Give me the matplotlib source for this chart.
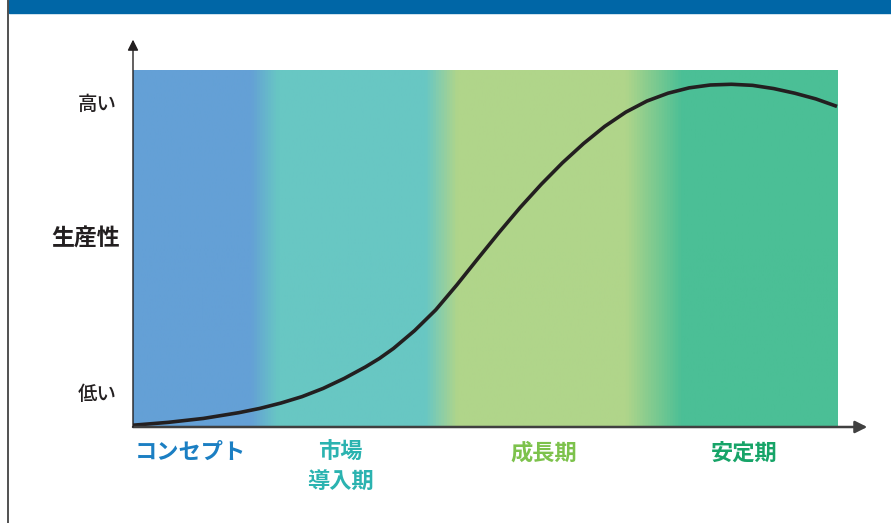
import numpy as np
import matplotlib
matplotlib.use("Agg")
import matplotlib.pyplot as plt
from matplotlib.colors import LinearSegmentedColormap
from matplotlib.patches import Rectangle
from matplotlib.lines import Line2D

plt.rcParams['font.family'] = ['Noto Sans CJK JP', 'DejaVu Sans']

# productivity curve (time 0-100, productivity 0-100)
curveX = [0, 5, 10, 15, 18, 21, 24, 27, 30, 33, 35, 37, 40, 43, 46, 49, 52, 55, 58, 61, 64, 67, 70, 73, 76, 79, 82, 85, 88, 91, 94, 97, 100]
curveY = [0.5, 1.3, 2.4, 4.0, 5.2, 6.7, 8.5, 10.8, 13.6, 16.8, 19.2, 22.0, 27.0, 32.8, 39.8, 47.2, 54.5, 61.5, 68.0, 74.0, 79.4, 84.2, 88.2, 91.3, 93.5, 95.0, 95.8, 96.0, 95.7, 94.8, 93.5, 91.9, 89.8]

# stages along the time axis
stageNames = ["コンセプト", "市場\n導入期", "成長期", "安定期"]
stageCentres = [8.2, 29.5, 58.4, 86.8]
stageColours = ["#1b7fc3", "#2bb3b0", "#7dc24c", "#17a468"]

# background colour stops (position, colour)
bgStops = [(0.0, "#64a0d6"), (0.166, "#64a0d6"), (0.205, "#68c7c3"), (0.415, "#68c7c3"),
           (0.460, "#b0d58a"), (0.70, "#b0d58a"), (0.78, "#4bbf96"), (1.0, "#4bbf96")]

yTickPos = [9.8, 90.8]
yTickLabels = ["低い", "高い"]

W, H = 891, 523
fig = plt.figure(figsize=(W / 100, H / 100), dpi=100)

# header banner and left frame line
fig.patches.append(Rectangle((9 / W, 1 - 13 / H), 1 - 9 / W, 13 / H,
                             transform=fig.transFigure, color="#0066a6", zorder=0))
fig.lines.append(Line2D([8 / W, 8 / W], [0, 1], transform=fig.transFigure,
                        color="#333333", lw=1.2))

xMax, yMax = 105, 110
ax = fig.add_axes([133 / W, 96 / H, 7.04 * xMax / W, 3.57 * yMax / H])
ax.set_xlim(0, xMax)
ax.set_ylim(0, yMax)
for s in ax.spines.values():
    s.set_visible(False)
ax.set_xticks([])
ax.set_yticks(yTickPos)
ax.set_yticklabels(yTickLabels, fontsize=14, fontweight="medium", color="#231f20")
ax.tick_params(axis="y", length=0, pad=12)

cmap = LinearSegmentedColormap.from_list("stages", bgStops)
grad = np.linspace(0, 1, 512).reshape(1, -1)
ax.imshow(grad, cmap=cmap, extent=[0, 100, 0, 100], aspect="auto", zorder=0)

ax.plot(curveX, curveY, color="#231f20", lw=2.6, solid_capstyle="butt", zorder=3)

# axis arrows
ax.annotate("", xy=(104.3, 0), xytext=(0, 0),
            arrowprops=dict(arrowstyle="-|>", color="#404040", lw=1.8,
                            mutation_scale=18, shrinkA=0, shrinkB=0), zorder=4)
ax.annotate("", xy=(0, 108.5), xytext=(0, 0),
            arrowprops=dict(arrowstyle="-|>", color="#231f20", lw=1.0,
                            mutation_scale=16, shrinkA=0, shrinkB=0), zorder=4)

ax.text(-1.8, 52.5, "生産性", ha="right", va="center", fontsize=16.5,
        fontweight="bold", color="#231f20")

for name, xc, col in zip(stageNames, stageCentres, stageColours):
    ax.text(xc, -4.0, name, ha="center", va="top", fontsize=16,
            fontweight="bold", color=col, linespacing=1.3)

fig.savefig("out.png", dpi=100)
